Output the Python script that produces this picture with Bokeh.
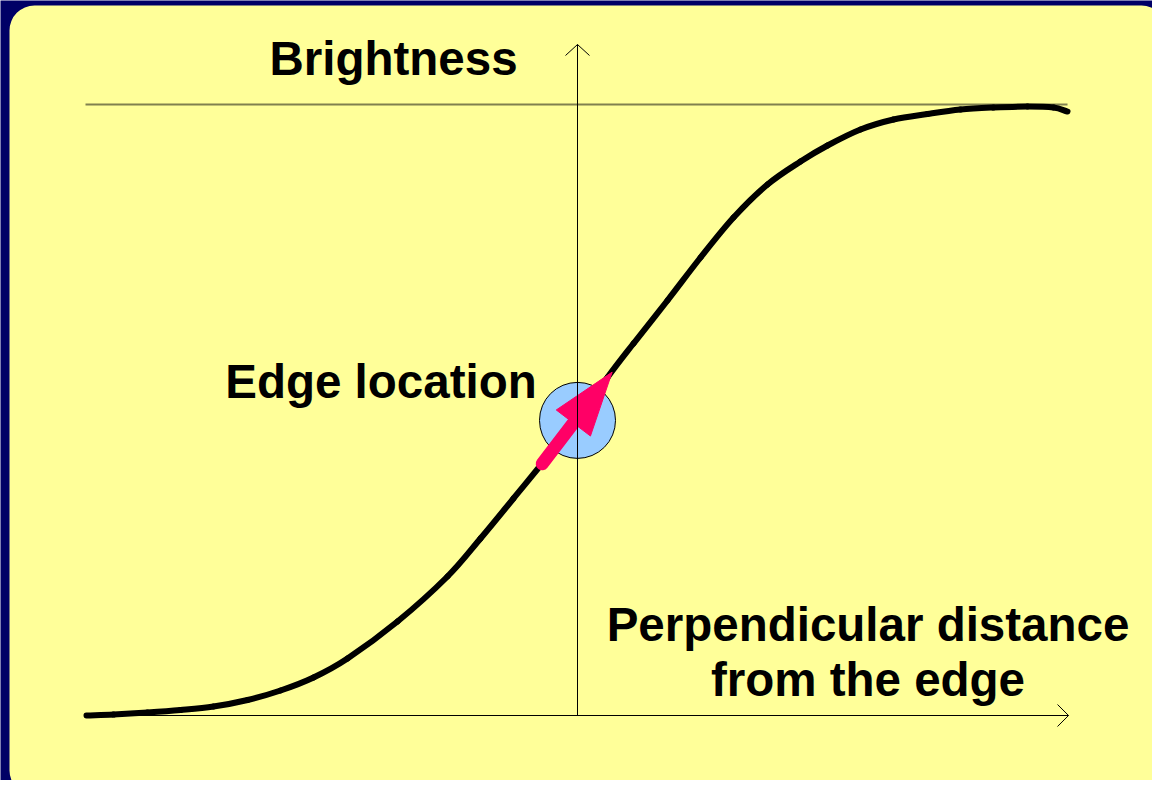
import numpy as np
from bokeh.plotting import figure
from bokeh.models import Range1d, BoxAnnotation
from bokeh.core.properties import value
from bokeh.embed import file_html
from bokeh.resources import INLINE

# ---- data (distance from edge vs brightness) ----
distance = [-5.000, -4.725, -4.379, -4.043, -3.707, -3.360, -3.024, -2.688, -2.342, -1.833,
            -1.324, -0.988, -0.652, -0.377, 0.000, 0.305, 0.570, 0.916, 1.253, 1.589,
            1.935, 2.271, 2.546, 2.882, 3.218, 3.564, 3.900, 4.236, 4.582, 4.847, 4.990]
brightness = [0.0000, 0.0016, 0.0049, 0.0090, 0.0147, 0.0254, 0.0409, 0.0622, 0.0933, 0.1538,
              0.2275, 0.2897, 0.3552, 0.4092, 0.4828, 0.5532, 0.6088, 0.6792, 0.7496, 0.8150,
              0.8691, 0.9067, 0.9329, 0.9591, 0.9755, 0.9845, 0.9918, 0.9951, 0.9967, 0.9951,
              0.9885]
max_brightness = 1.0
edge_x, edge_y = 0.0, 0.483
arrow_tail = (-0.359, 0.412)
arrow_tip = (0.353, 0.562)
labels = ["Brightness", "Edge location", "Perpendicular distance", "from the edge"]

# ---- layout ----
W, H = 1152, 780
PXX, PXY = 98.2, 611.0          # pixels per data unit
OX, OY = 577.0, 715.0           # pixel position of the origin
X0 = -OX / PXX
X1 = X0 + W / PXX
Y1 = OY / PXY
Y0 = Y1 - H / PXY

def dx(px):
    return px / PXX

def dy(px):
    return px / PXY

def sx(X):
    return (X - OX) / PXX

def sy(Y):
    return (OY - Y) / PXY

p = figure(width=W, height=H, output_backend="svg", toolbar_location=None,
           x_range=Range1d(X0, X1), y_range=Range1d(Y0, Y1),
           min_border=0, outline_line_color=None)
p.axis.visible = False
p.grid.visible = False
p.background_fill_color = "#000066"
p.border_fill_color = "#000066"

p.add_layout(BoxAnnotation(left=sx(9), right=sx(1166), top=sy(5), bottom=sy(795),
                           fill_color="#FFFF99", fill_alpha=1.0, line_color=None,
                           border_radius=25, level="underlay"))

FONT = value("Liberation Sans")
FS = "47.5px"
TEXT_SHIFT = 16  # px upward correction for alphabetic baseline rendering

# top reference line (max brightness)
p.line([distance[0] - dx(1), distance[-1]], [max_brightness, max_brightness],
       line_color="#80804f", line_width=2)

# curve: smooth Catmull-Rom rendering through the read points
xs = np.array(distance)
ys = np.array(brightness)
xp = np.concatenate([[2 * xs[0] - xs[1]], xs, [2 * xs[-1] - xs[-2]]])
yp = np.concatenate([[2 * ys[0] - ys[1]], ys, [2 * ys[-1] - ys[-2]]])
x0s, y0s = xp[1:-2], yp[1:-2]
x1s, y1s = xp[2:-1], yp[2:-1]
cx0 = x0s + (xp[2:-1] - xp[:-3]) / 6
cy0 = y0s + (yp[2:-1] - yp[:-3]) / 6
cx1 = x1s - (xp[3:] - xp[1:-2]) / 6
cy1 = y1s - (yp[3:] - yp[1:-2]) / 6
p.bezier(x0=x0s, y0=y0s, x1=x1s, y1=y1s, cx0=cx0, cy0=cy0, cx1=cx1, cy1=cy1,
         line_color="black", line_width=6, line_cap="round")

# edge circle
p.scatter([edge_x], [edge_y], size=76, fill_color="#99CCFF",
          line_color="black", line_width=1)

# arrow (geometry computed in screen space)
tx, ty = arrow_tail[0] * PXX, -arrow_tail[1] * PXY
hx, hy = arrow_tip[0] * PXX, -arrow_tip[1] * PXY
L = np.hypot(hx - tx, hy - ty)
ux, uy = (hx - tx) / L, (hy - ty) / L
nx, ny = -uy, ux
head_len, head_half = 64.0, 21.5
bx, by = hx - head_len * ux, hy - head_len * uy
sx_end, sy_end = bx + 6 * ux, by + 6 * uy
p.line([tx / PXX, sx_end / PXX], [-ty / PXY, -sy_end / PXY],
       line_color="#FF0066", line_width=13, line_cap="round")
px_pts = [hx, bx + head_half * nx, bx - head_half * nx]
py_pts = [hy, by + head_half * ny, by - head_half * ny]
p.patch([v / PXX for v in px_pts], [-v / PXY for v in py_pts],
        fill_color="#FF0066", line_color="#FF0066", line_width=1)

# axes with open arrowheads
x_left = distance[0] - dx(1)
x_right = distance[-1] + dx(1)
p.line([x_left, x_right], [0, 0], line_color="black", line_width=1)
p.line([x_right - dx(11), x_right, x_right - dx(11)], [dy(11), 0, -dy(11)],
       line_color="black", line_width=1)
y_top = sy(44)
p.line([0, 0], [0, y_top], line_color="black", line_width=1)
p.line([-dx(12), 0, dx(12)], [y_top - dy(11), y_top, y_top - dy(11)],
       line_color="black", line_width=1)

# labels
p.text([sx(393)], [sy(73.5 - TEXT_SHIFT)], text=[labels[0]], text_font=FONT,
       text_font_style="bold", text_font_size=FS, text_align="center",
       text_baseline="alphabetic", text_color="black")
p.text([sx(380.5)], [sy(397 - TEXT_SHIFT)], text=[labels[1]], text_font=FONT,
       text_font_style="bold", text_font_size=FS, text_align="center",
       text_baseline="alphabetic", text_color="black")
p.text([sx(867.5)] * 2, [sy(639.3 - TEXT_SHIFT + 1), sy(693.3 - TEXT_SHIFT + 2)],
       text=labels[2:], text_font=FONT, text_font_style="bold",
       text_font_size=FS, text_align="center", text_baseline="alphabetic",
       text_color="black")

open("out.html", "w").write(file_html(p, INLINE))
